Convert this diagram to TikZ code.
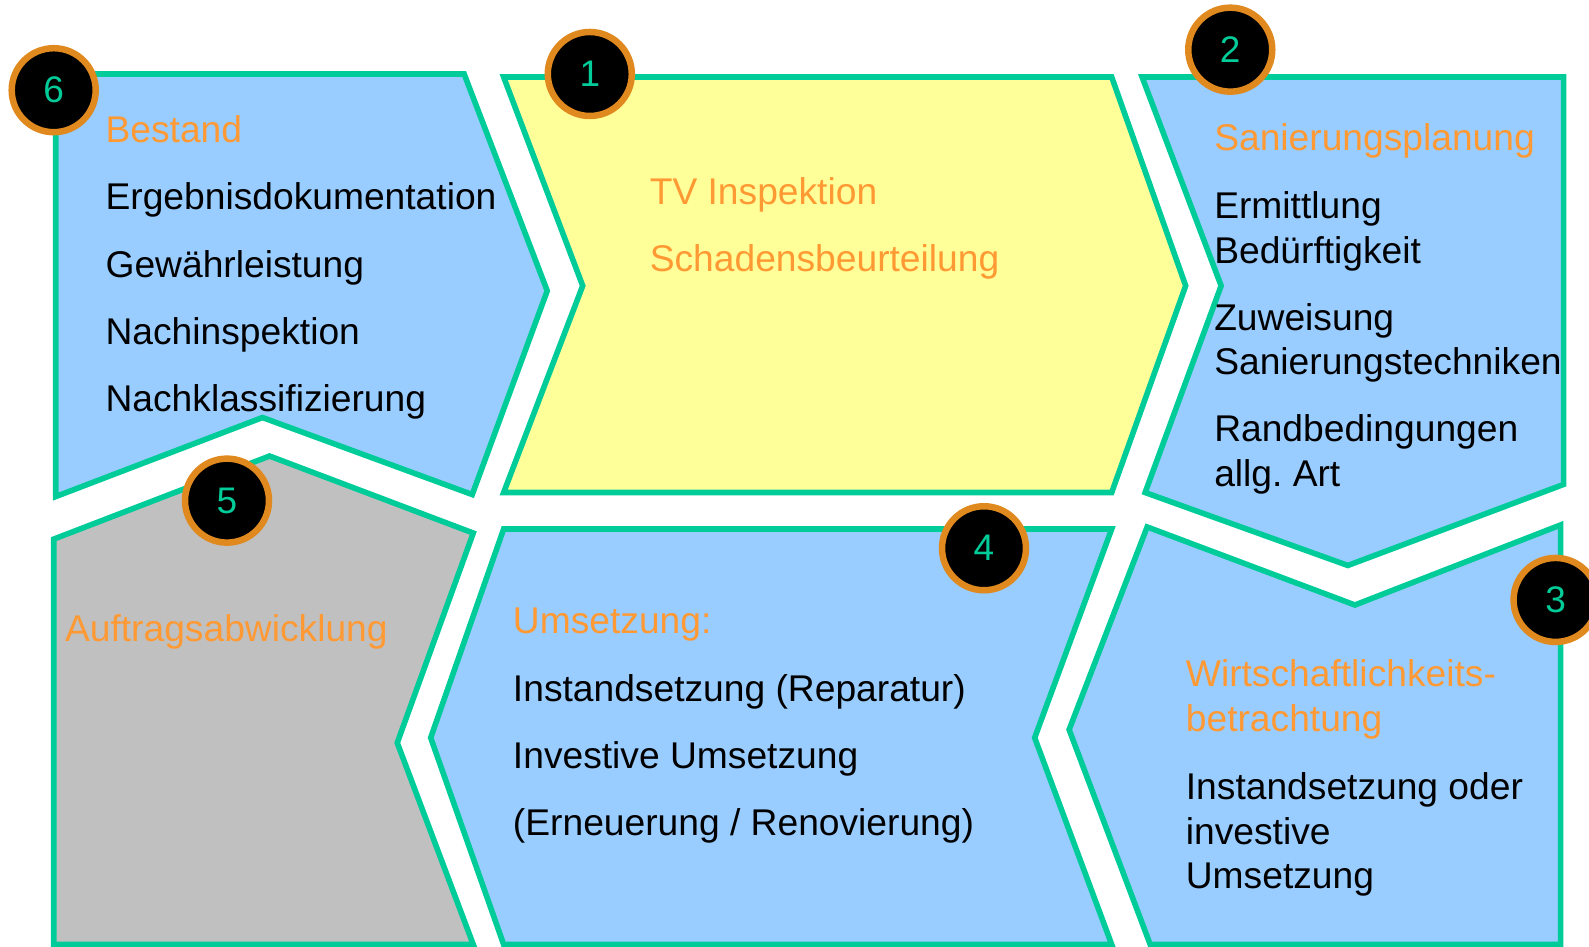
\documentclass[tikz,border=0pt]{standalone}
\usepackage{fontspec}
\setmainfont{Liberation Sans}
\definecolor{edge}{HTML}{00CC99}
\definecolor{bluefill}{HTML}{99CCFF}
\definecolor{yellowfill}{HTML}{FFFF99}
\definecolor{grayfill}{HTML}{C0C0C0}
\definecolor{headtext}{HTML}{FF9933}
\definecolor{ring}{HTML}{E0891E}
\begin{document}
\frenchspacing
\begin{tikzpicture}[x=1.01339pt,y=-1.01339pt,
  panel/.style={draw=edge,line width=5.6pt,line join=miter},
  txt/.style={anchor=base west,inner sep=0pt,font=\fontsize{37.2}{40}\selectfont,text=black},
  head/.style={txt,text=headtext},
  badge/.style={circle,fill=black,draw=ring,line width=6.5pt,minimum size=84pt,inner sep=0pt,
    text=edge,font=\fontsize{37}{40}\selectfont}]
\useasboundingbox (0,0) rectangle (1568,933.5);
% panels
\path[panel,fill=bluefill] (55,73) -- (458,73) -- (540,287) -- (466,488) -- (259,412) -- (55,490) -- cycle;
\path[panel,fill=yellowfill] (497,76) -- (1097,76) -- (1170,282) -- (1097,486) -- (497,486) -- (575,282) -- cycle;
\path[panel,fill=bluefill] (1127,76) -- (1543,76) -- (1543,478) -- (1330,558) -- (1130,486) -- (1205,282) -- cycle;
\path[panel,fill=bluefill] (1132,520) -- (1337,597) -- (1540,518) -- (1540,932) -- (1135,932) -- (1055,720) -- cycle;
\path[panel,fill=bluefill] (497,522) -- (1097,522) -- (1021,728) -- (1097,932) -- (497,932) -- (425,728) -- cycle;
\path[panel,fill=grayfill] (266,450) -- (467,526) -- (392,733) -- (467,932) -- (53,932) -- (53,532) -- cycle;
% texts panel 6
\node[head] (t6a) at (104,141) {Bestand};
\node[txt] (t6b) at (104,207) {Ergebnisdokumentation};
\node[txt] (t6c) at (104,274) {Gewährleistung};
\node[txt] (t6d) at (104,340) {Nachinspektion};
\node[txt] (t6e) at (104,406) {Nachklassifizierung};
% panel 1
\node[head] (t1a) at (641,202) {TV Inspektion};
\node[head] (t1b) at (641,268) {Schadensbeurteilung};
% panel 2
\node[head] (t2a) at (1198,149) {Sanierungsplanung};
\node[txt] (t2b) at (1198,216) {Ermittlung};
\node[txt] (t2c) at (1198,260) {Bedürftigkeit};
\node[txt] (t2d) at (1198,326) {Zuweisung};
\node[txt] (t2e) at (1198,370) {Sanierungstechniken};
\node[txt] (t2f) at (1198,436) {Randbedingungen};
\node[txt] (t2g) at (1198,480) {allg. Art};
% panel 3
\node[head] (t3a) at (1170,677) {Wirtschaftlichkeits-};
\node[head] (t3b) at (1170,722) {betrachtung};
\node[txt] (t3c) at (1170,789) {Instandsetzung oder};
\node[txt] (t3d) at (1170,833) {investive};
\node[txt] (t3e) at (1170,877) {Umsetzung};
% panel 4
\node[head] (t4a) at (506,625) {Umsetzung:};
\node[txt] (t4b) at (506,692) {Instandsetzung (Reparatur)};
\node[txt] (t4c) at (506,758) {Investive Umsetzung};
\node[txt] (t4d) at (506,824) {(Erneuerung / Renovierung)};
% panel 5
\node[head] (t5a) at (64,633) {Auftragsabwicklung};
% badges
\node[badge] (b6) at (53,89) {6};
\node[badge] (b1) at (582,73) {1};
\node[badge] (b2) at (1214,49) {2};
\node[badge] (b3) at (1535,592) {3};
\node[badge] (b4) at (971,541) {4};
\node[badge] (b5) at (224,494) {5};
\end{tikzpicture}
\end{document}
